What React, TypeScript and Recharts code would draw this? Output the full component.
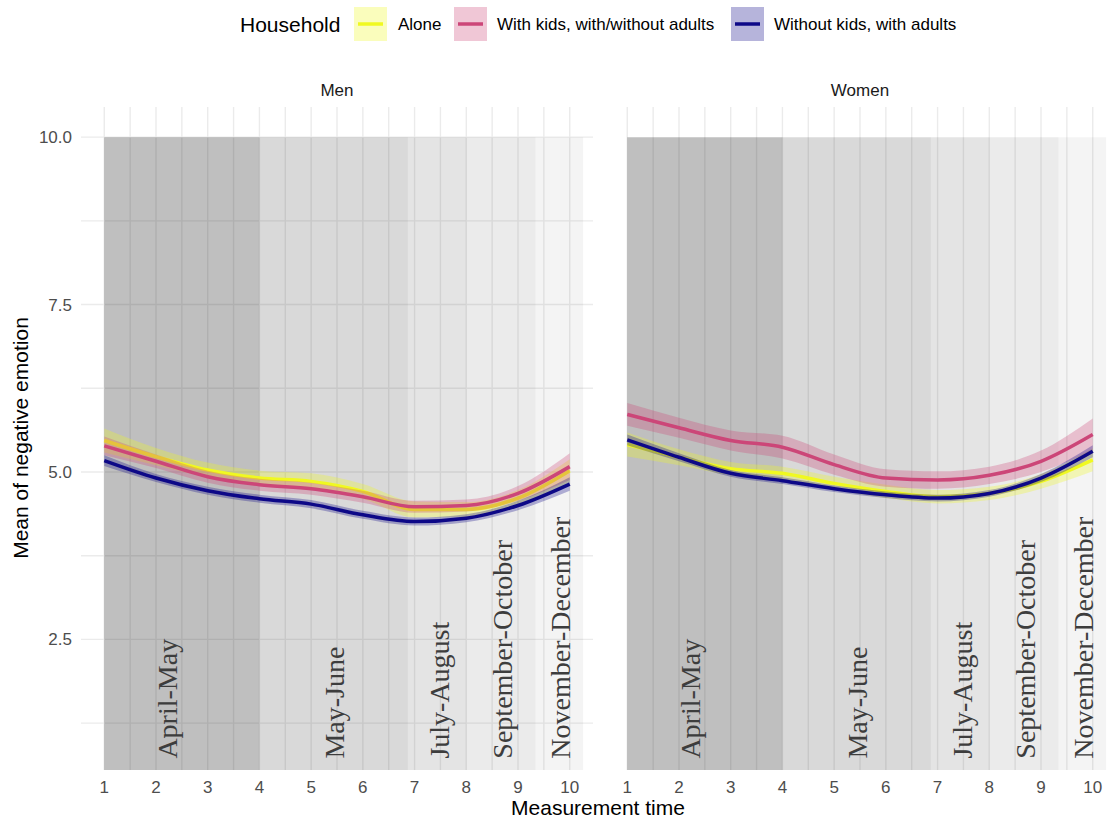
import React from 'react';
import {
  ComposedChart, Line, Area, XAxis, YAxis, CartesianGrid, ReferenceArea, Scatter,
} from 'recharts';

// ---------- data ----------
const measurement = [1, 2, 3, 4, 5, 6, 7, 8, 9, 10];

const menAlone = [5.47, 5.23, 5.03, 4.91, 4.86, 4.71, 4.44, 4.44, 4.61, 5.02];
const menKids = [5.39, 5.16, 4.93, 4.81, 4.75, 4.63, 4.48, 4.5, 4.68, 5.08];
const menAdults = [5.17, 4.91, 4.72, 4.6, 4.52, 4.36, 4.26, 4.31, 4.5, 4.82];
const menAloneCI = [0.18, 0.13, 0.11, 0.11, 0.12, 0.11, 0.12, 0.11, 0.12, 0.17];
const menKidsCI = [0.14, 0.1, 0.09, 0.09, 0.09, 0.09, 0.09, 0.09, 0.11, 0.2];
const menAdultsCI = [0.08, 0.06, 0.06, 0.06, 0.06, 0.06, 0.06, 0.06, 0.07, 0.1];

const womenAlone = [5.41, 5.22, 5.05, 4.98, 4.83, 4.71, 4.63, 4.68, 4.86, 5.18];
const womenKids = [5.86, 5.66, 5.47, 5.37, 5.11, 4.91, 4.88, 4.95, 5.16, 5.56];
const womenAdults = [5.48, 5.22, 4.98, 4.87, 4.75, 4.66, 4.61, 4.68, 4.91, 5.31];
const womenAloneCI = [0.18, 0.12, 0.1, 0.1, 0.1, 0.1, 0.1, 0.1, 0.11, 0.17];
const womenKidsCI = [0.17, 0.15, 0.15, 0.17, 0.15, 0.13, 0.13, 0.13, 0.16, 0.24];
const womenAdultsCI = [0.08, 0.06, 0.05, 0.05, 0.05, 0.05, 0.05, 0.05, 0.06, 0.09];

const periodLabels = ['April-May', 'May-June', 'July-August', 'September-October', 'November-December'];
const periodStart = [1, 4, 6.87, 8, 9.34];
const periodEnd = [4, 6.87, 8, 9.34, 10.26];
const periodTop = 10;
const periodLabelX = [2.22, 5.45, 7.48, 8.7, 9.81];
const periodLabelY = 0.72;

const xMajorTicks = [1, 2, 3, 4, 5, 6, 7, 8, 9, 10];
const xMinorTicks = [1.5, 2.5, 3.5, 4.5, 5.5, 6.5, 7.5, 8.5, 9.5];
const yMajorTicks = [2.5, 5, 7.5, 10];
const yMinorTicks = [1.25, 3.75, 6.25, 8.75];
const axisDomain = [0.55, 10.45];

const seriesNames = ['Alone', 'With kids, with/without adults', 'Without kids, with adults'];

// ---------- styles ----------
const COLORS = ['#F0F921', '#CC4678', '#0D0887'];
const SHADE_OPACITY = [0.25, 0.15, 0.105, 0.08, 0.045];
const SANS = '"Liberation Sans", Arial, Helvetica, sans-serif';
const SERIF = '"Liberation Serif", "Times New Roman", serif';

const xTicks = [...xMajorTicks, ...xMinorTicks].sort((a, b) => a - b);
const yTicks = [...yMajorTicks, ...yMinorTicks].sort((a, b) => a - b);

function buildRows(a: number[], k: number[], w: number[], aci: number[], kci: number[], wci: number[]) {
  return measurement.map((m, i) => ({
    x: m,
    alone: a[i],
    kids: k[i],
    adults: w[i],
    aloneBand: [a[i] - aci[i], a[i] + aci[i]],
    kidsBand: [k[i] - kci[i], k[i] + kci[i]],
    adultsBand: [w[i] - wci[i], w[i] + wci[i]],
  }));
}

const menRows = buildRows(menAlone, menKids, menAdults, menAloneCI, menKidsCI, menAdultsCI);
const womenRows = buildRows(womenAlone, womenKids, womenAdults, womenAloneCI, womenKidsCI, womenAdultsCI);
const labelRows = periodLabels.map((label, i) => ({ x: periodLabelX[i], y: periodLabelY, label }));

const LabelShape = (p: any) => {
  const { cx, cy, payload } = p;
  return (
    <text
      x={cx}
      y={cy}
      transform={`rotate(-90 ${cx} ${cy})`}
      dy="0.35em"
      textAnchor="start"
      fontFamily={SERIF}
      fontSize={28}
      fill="#3d3d3d"
    >
      {payload.label}
    </text>
  );
};

function Panel({ rows, showY, width, margin }: { rows: any[]; showY: boolean; width: number; margin: any }) {
  const keys = ['alone', 'kids', 'adults'];
  return (
    <ComposedChart width={width} height={820} data={rows} margin={margin}>
      <CartesianGrid stroke="#ebebeb" strokeWidth={1.4} syncWithTicks />
      <XAxis
        type="number"
        dataKey="x"
        domain={axisDomain}
        ticks={xTicks}
        interval={0}
        allowDataOverflow
        tickFormatter={(v: number) => (Number.isInteger(v) ? String(v) : '')}
        axisLine={false}
        tickLine={false}
        tickSize={0}
        tickMargin={11}
        height={30}
        tick={{ fontSize: 17, fill: '#4d4d4d', fontFamily: SANS }}
      />
      <YAxis
        type="number"
        domain={axisDomain}
        ticks={yTicks}
        interval={0}
        allowDataOverflow
        tickFormatter={(v: number) => (yMajorTicks.includes(v) ? v.toFixed(1) : '')}
        axisLine={false}
        tickLine={false}
        tickSize={0}
        tickMargin={9}
        width={showY ? 81 : 0}
        tick={showY ? { fontSize: 17, fill: '#4d4d4d', fontFamily: SANS } : false}
      />
      {periodLabels.map((lab, i) => (
        <ReferenceArea
          key={lab}
          x1={periodStart[i]}
          x2={periodEnd[i]}
          y1={axisDomain[0]}
          y2={periodTop}
          fill="#000"
          fillOpacity={SHADE_OPACITY[i]}
          stroke="none"
          ifOverflow="visible"
        />
      ))}
      {keys.flatMap((k, i) => [
        <Area
          key={k + 'band'}
          type="monotone"
          dataKey={k + 'Band'}
          stroke="none"
          fill={COLORS[i]}
          fillOpacity={0.3}
          isAnimationActive={false}
          activeDot={false}
          dot={false}
          zIndex={401 + 2 * i}
        />,
        <Line
          key={k + 'line'}
          type="monotone"
          dataKey={k}
          stroke={COLORS[i]}
          strokeWidth={3.5}
          dot={false}
          activeDot={false}
          isAnimationActive={false}
          zIndex={402 + 2 * i}
        />,
      ])}
      <Scatter data={labelRows} dataKey="y" shape={LabelShape} isAnimationActive={false} />
    </ComposedChart>
  );
}

export default function App() {
  const legendX = [354, 454, 731];
  const legendTextX = [398, 497, 774];
  return (
    <div style={{ position: 'absolute', left: 0, top: 0, width: 1109, height: 820, overflow: 'hidden', background: '#fff' }}>
      <div style={{ position: 'absolute', left: 0, top: 0 }}>
        <Panel rows={menRows} showY width={600} margin={{ top: 107, right: 7, bottom: 20, left: 0 }} />
      </div>
      <div style={{ position: 'absolute', left: 600, top: 0 }}>
        <Panel rows={womenRows} showY={false} width={516} margin={{ top: 107, right: 0, bottom: 20, left: 4 }} />
      </div>
      <svg width={1109} height={820} style={{ position: 'absolute', left: 0, top: 0, pointerEvents: 'none' }}>
        <text x={240} y={31.5} fontFamily={SANS} fontSize={21} fill="#000">Household</text>
        {seriesNames.map((name, i) => (
          <g key={name}>
            <rect x={legendX[i]} y={7} width={33} height={34} fill={COLORS[i]} fillOpacity={0.3} />
            <line x1={legendX[i] + 4} x2={legendX[i] + 29} y1={24} y2={24} stroke={COLORS[i]} strokeWidth={3.5} />
            <text x={legendTextX[i]} y={30} fontFamily={SANS} fontSize={17} fill="#000">{name}</text>
          </g>
        ))}
        <text x={337} y={96} textAnchor="middle" fontFamily={SANS} fontSize={17} fill="#1a1a1a">Men</text>
        <text x={860} y={96} textAnchor="middle" fontFamily={SANS} fontSize={17} fill="#1a1a1a">Women</text>
        <text x={598} y={815} textAnchor="middle" fontFamily={SANS} fontSize={21} fill="#000">Measurement time</text>
        <text transform="translate(28 438) rotate(-90)" textAnchor="middle" fontFamily={SANS} fontSize={21} fill="#000">
          Mean of negative emotion
        </text>
      </svg>
    </div>
  );
}
